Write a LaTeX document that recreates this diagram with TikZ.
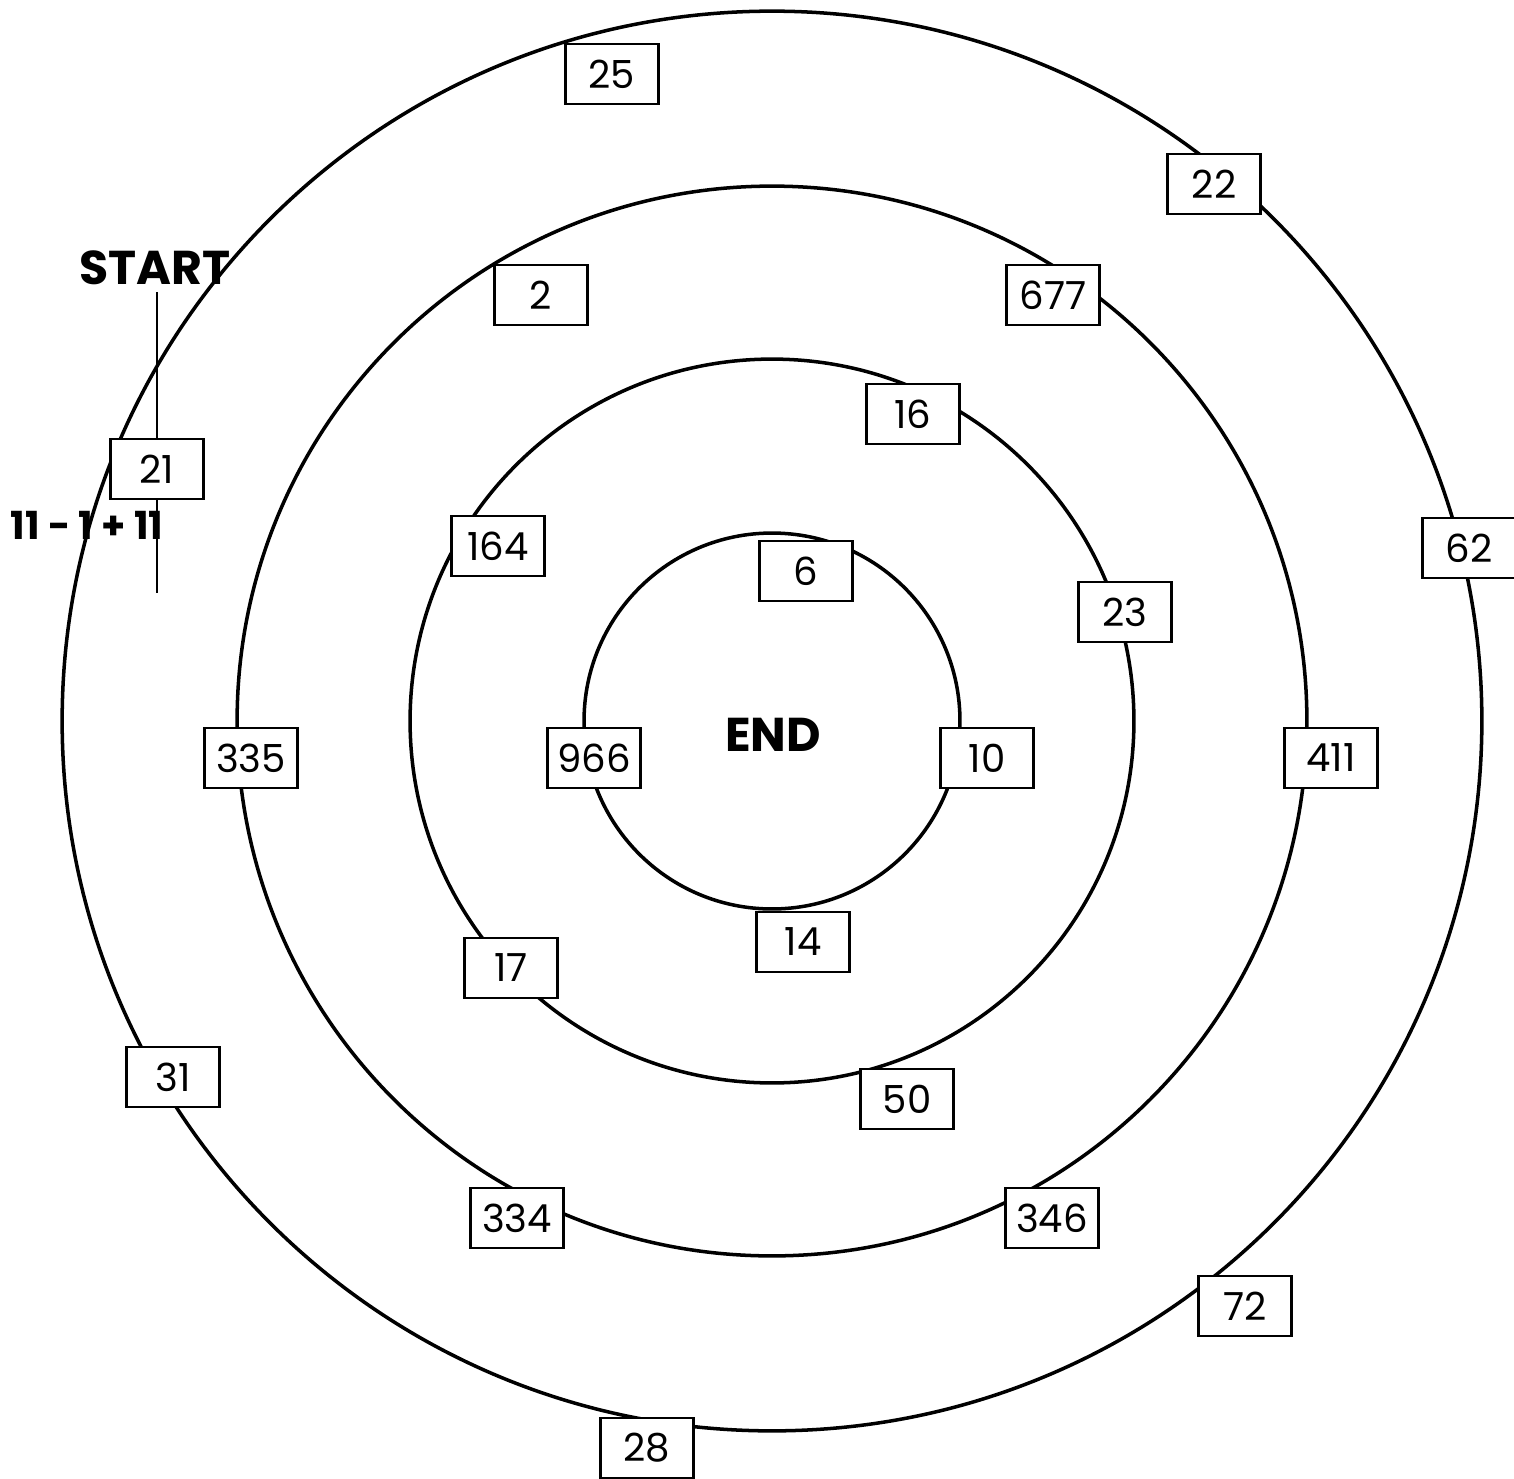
\documentclass[tikz,border=0pt]{standalone}
\usepackage{fontspec}
\setmainfont{Poppins}
\usetikzlibrary{positioning}

\begin{document}
\begin{tikzpicture}[
    x=0.02cm, y=-0.02cm,
    ring/.style={draw=black, line width=2pt},
    numbox/.style={draw=black, fill=white, line width=1.2pt, minimum width=1.86cm, minimum height=1.2cm, inner sep=0pt, font=\fontsize{22}{26}\selectfont},
    bigword/.style={font=\fontsize{27}{32}\selectfont\bfseries},
    sum/.style={font=\fontsize{22}{26}\selectfont\bfseries}
]
\useasboundingbox (0,0) rectangle (1514,1478);
\coordinate (mid) at (772,721);
\draw[ring] (mid) circle[radius=14.2cm];
\draw[ring] (mid) circle[radius=10.7cm];
\draw[ring] (mid) circle[radius=7.24cm];
\draw[ring] (mid) circle[radius=3.76cm];
% start marker
\node[bigword] (start) at (155,268) {START};
\coordinate (top) at (157,292);
\coordinate (bot) at (157,593);
\draw[line width=1.1pt] (top) -- (bot);
\node[sum] (rule) at (87,525) {11 - 1 + 11};
\node[bigword] (finish) at (773,735) {END};
% outer ring
\node[numbox] (n25) at (612,74) {25};
\node[numbox] (n22) at (1214,184) {22};
\node[numbox] (n62) at (1469,548) {62};
\node[numbox] (n72) at (1245,1306) {72};
\node[numbox] (n28) at (647,1448) {28};
\node[numbox] (n31) at (173,1077) {31};
\node[numbox] (n21) at (157,469) {21};
% second ring
\node[numbox] (n2) at (541,295) {2};
\node[numbox] (n677) at (1053,295) {677};
\node[numbox] (n411) at (1331,758) {411};
\node[numbox] (n346) at (1052,1218) {346};
\node[numbox] (n334) at (517,1218) {334};
\node[numbox] (n335) at (251,758) {335};
% third ring
\node[numbox] (n16) at (913,414) {16};
\node[numbox] (n23) at (1125,612) {23};
\node[numbox] (n50) at (907,1099) {50};
\node[numbox] (n17) at (511,968) {17};
\node[numbox] (n164) at (498,546) {164};
% inner ring
\node[numbox] (n6) at (806,571) {6};
\node[numbox] (n10) at (987,758) {10};
\node[numbox] (n14) at (803,942) {14};
\node[numbox] (n966) at (594,758) {966};
\end{tikzpicture}
\end{document}
